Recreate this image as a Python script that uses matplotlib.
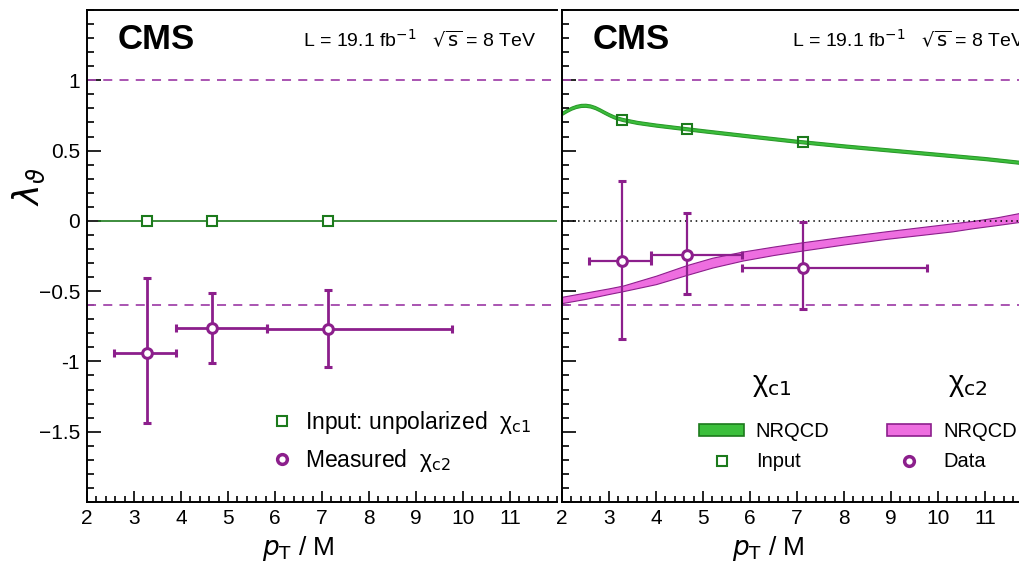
import numpy as np
import matplotlib
matplotlib.use("Agg")
import matplotlib.pyplot as plt
from matplotlib.lines import Line2D
from matplotlib.patches import Patch
from matplotlib.ticker import MultipleLocator, FixedLocator

plt.rcParams["font.family"] = ["Liberation Sans", "DejaVu Sans"]

# pT/M bins (centre and edges)
pt_centre = [3.27, 4.65, 7.12]
pt_lo = [2.57, 3.89, 5.84]
pt_hi = [3.89, 5.84, 9.76]

# left: chi_c2 lambda_theta assuming unpolarized chi_c1
lam_c1_unpol = [0.0, 0.0, 0.0]
lam_c2_meas = [-0.94, -0.76, -0.77]
lam_c2_meas_up = [-0.41, -0.51, -0.49]
lam_c2_meas_dn = [-1.44, -1.01, -1.04]

# right: chi_c2 lambda_theta assuming NRQCD chi_c1
lam_c1_input = [0.72, 0.655, 0.56]
lam_c2_data = [-0.285, -0.24, -0.335]
lam_c2_data_up = [0.285, 0.055, -0.01]
lam_c2_data_dn = [-0.84, -0.52, -0.63]

# NRQCD chi_c1 band
c1_pt = [2.0, 2.1, 2.2, 2.3, 2.4, 2.5, 2.6, 2.7, 2.8, 2.9, 3.0, 3.1, 3.2, 3.3,
         3.6, 4.0, 5.0, 6.0, 7.0, 8.0, 9.0, 10.0, 11.0, 11.75]
c1_mid = [0.765, 0.785, 0.802, 0.814, 0.821, 0.822, 0.817, 0.806, 0.790, 0.772,
          0.755, 0.740, 0.729, 0.720, 0.700, 0.681, 0.641, 0.603, 0.566, 0.533,
          0.503, 0.473, 0.443, 0.416]
c1_halfwidth = 0.011

# NRQCD chi_c2 band
c2_pt = [2.0, 2.5, 3.0, 3.3, 4.0, 4.65, 5.2, 5.85, 6.5, 7.1, 8.0, 8.9, 9.8, 10.3, 10.75, 11.25, 11.75]
c2_hi = [-0.54, -0.51, -0.48, -0.46, -0.39, -0.315, -0.262, -0.218, -0.183, -0.153,
         -0.112, -0.074, -0.038, -0.018, 0.0, 0.025, 0.057]
c2_lo = [-0.585, -0.555, -0.52, -0.50, -0.45, -0.385, -0.332, -0.282, -0.243, -0.212,
         -0.168, -0.128, -0.094, -0.075, -0.052, -0.03, -0.007]

y_ticks = [-1.5, -1.0, -0.5, 0.0, 0.5, 1.0]
y_ticklabels = ["\u22121.5", "-1", "\u22120.5", "0", "0.5", "1"]
x_ticks = [2, 3, 4, 5, 6, 7, 8, 9, 10, 11]

purple = "#8c1f8c"
dash_col = "#a346ab"
green_dark = "#1c7a1c"
green_fill = "#3cbf3c"
pink_fill = "#ee6ee0"

fig = plt.figure(figsize=(10.2, 5.67), dpi=100)
axl = fig.add_axes([0.0853, 0.1146, 0.4608, 0.8678])
axr = fig.add_axes([0.551, 0.1146, 0.449, 0.8678])


def style_axes(ax, xmax, labels):
    ax.set_xlim(2, xmax)
    ax.set_ylim(-2, 1.5)
    ax.spines["right"].set_visible(False)
    for s in ("left", "bottom", "top"):
        ax.spines[s].set_linewidth(1.4)
    ax.xaxis.set_major_locator(FixedLocator(x_ticks))
    ax.xaxis.set_minor_locator(MultipleLocator(0.2))
    ax.yaxis.set_major_locator(FixedLocator(y_ticks))
    ax.yaxis.set_minor_locator(MultipleLocator(0.1))
    ax.tick_params(which="both", direction="in", top=False, right=False, width=1.2)
    ax.tick_params(which="major", axis="y", length=10)
    ax.tick_params(which="minor", axis="y", length=5)
    ax.tick_params(which="major", axis="x", length=8)
    ax.tick_params(which="minor", axis="x", length=4)
    ax.tick_params(axis="both", labelsize=15, pad=5)
    if labels:
        ax.set_yticklabels(y_ticklabels)
    else:
        ax.set_yticklabels([])
    ax.set_xlabel(r"$p_{\mathrm{T}}$ / M", fontsize=19, labelpad=-1)
    ax.xaxis.set_label_coords(0.45, -0.065)
    ax.axhline(1.0, color=dash_col, lw=1.3, ls=(0, (5, 4)))
    ax.axhline(-0.6, color=dash_col, lw=1.3, ls=(0, (5, 4)))


def header(ax, x_lumi):
    ax.text(0.066, 0.94, "CMS", transform=ax.transAxes, fontsize=25,
            fontweight="bold", va="center", ha="left")
    ax.text(x_lumi, 0.94, r"L = 19.1 fb$^{-1}$   $\sqrt{\mathrm{s}}$ = 8 TeV",
            transform=ax.transAxes, fontsize=14, va="center", ha="left")


def err_lists(c, up, dn):
    return [np.subtract(c, dn), np.subtract(up, c)]


# left panel
style_axes(axl, 12, True)
axl.set_ylabel(r"$\lambda_{\vartheta}$", fontsize=25)
axl.yaxis.set_label_coords(-0.085, 0.64)
header(axl, 0.46)
axl.plot([2.25, 12], [0, 0], color=green_dark, lw=1.2)
axl.plot(pt_centre, lam_c1_unpol, ls="none", marker="s", ms=7, mfc="white",
         mec=green_dark, mew=1.5)
axl.errorbar(pt_centre, lam_c2_meas,
             xerr=err_lists(pt_centre, pt_hi, pt_lo),
             yerr=err_lists(lam_c2_meas, lam_c2_meas_up, lam_c2_meas_dn),
             fmt="o", color=purple, ms=7, mfc="white", mec=purple, mew=2.2,
             elinewidth=2.0, capsize=3, capthick=1.5)

h_left = [
    Line2D([], [], ls="none", marker="s", ms=7, mfc="white", mec=green_dark, mew=1.5),
    Line2D([], [], ls="none", marker="o", ms=7, mfc="white", mec=purple, mew=2.5),
]
axl.legend(h_left, [r"Input: unpolarized  χ$_{\mathrm{c1}}$", r"Measured  χ$_{\mathrm{c2}}$"],
           loc="center left", bbox_to_anchor=(0.385, 0.123), frameon=False,
           borderpad=0, borderaxespad=0,
           fontsize=16.5, handletextpad=0.4, labelspacing=0.45, handlelength=1.2)

# right panel
style_axes(axr, 11.745, False)
header(axr, 0.502)
axr.axhline(0.0, color="black", lw=1.1, ls=(0, (1, 2.5)))
axr.fill_between(c1_pt, np.subtract(c1_mid, c1_halfwidth), np.add(c1_mid, c1_halfwidth),
                 color=green_fill, ec="#2a9a2a", lw=0.8)
axr.fill_between(c2_pt, c2_lo, c2_hi, color=pink_fill, ec=purple, lw=0.8)
axr.plot(pt_centre, lam_c1_input, ls="none", marker="s", ms=7, mfc="none",
         mec=green_dark, mew=1.5)
axr.errorbar(pt_centre, lam_c2_data,
             xerr=err_lists(pt_centre, pt_hi, pt_lo),
             yerr=err_lists(lam_c2_data, lam_c2_data_up, lam_c2_data_dn),
             fmt="o", color=purple, ms=7, mfc="white", mec=purple, mew=2.2,
             elinewidth=1.6, capsize=3, capthick=1.3)

axr.text(0.458, 0.238, "χ$_{\\mathrm{c1}}$", transform=axr.transAxes,
         fontsize=21, ha="center", va="center")
axr.text(0.885, 0.238, "χ$_{\\mathrm{c2}}$", transform=axr.transAxes,
         fontsize=21, ha="center", va="center")

leg_kw = dict(frameon=False, fontsize=14.5, loc="center left", borderpad=0,
              borderaxespad=0, handletextpad=0.6, labelspacing=0.55,
              handlelength=2.2, handleheight=0.55)
leg1 = axr.legend(
    [Patch(fc=green_fill, ec=green_dark, lw=1.2),
     Line2D([], [], ls="none", marker="s", ms=7, mfc="white", mec=green_dark, mew=1.5)],
    ["NRQCD", "Input"], bbox_to_anchor=(0.30, 0.112), **leg_kw)
axr.add_artist(leg1)
axr.legend(
    [Patch(fc=pink_fill, ec=purple, lw=1.2),
     Line2D([], [], ls="none", marker="o", ms=7, mfc="white", mec=purple, mew=2.5)],
    ["NRQCD", "Data"], bbox_to_anchor=(0.71, 0.112), **leg_kw)

fig.savefig("out.png", dpi=100)
